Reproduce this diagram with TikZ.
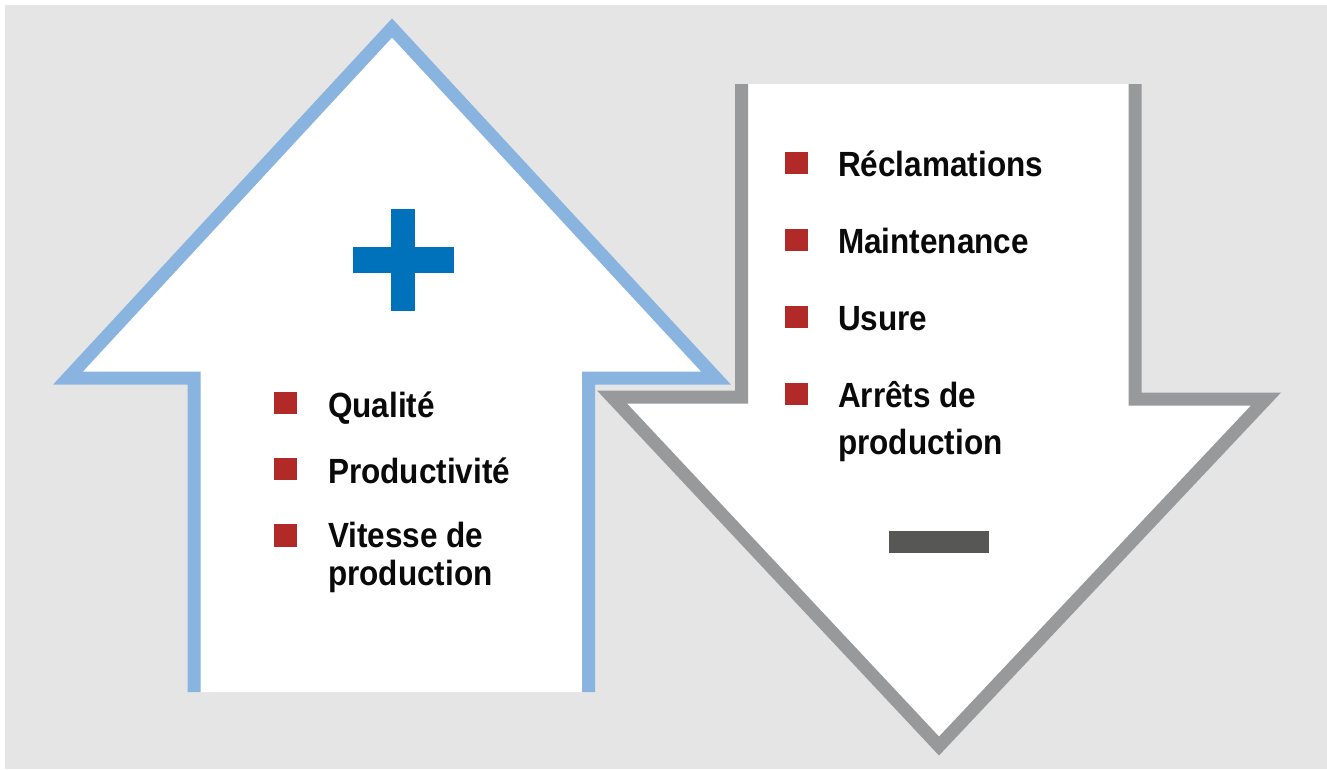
\documentclass[tikz,border=0pt]{standalone}
\usepackage{fontspec}
\setmainfont{Liberation Sans}[FakeStretch=0.9]
\definecolor{bgGray}{HTML}{E4E5E4}
\definecolor{upBlue}{HTML}{8AB4E0}
\definecolor{downGray}{HTML}{98999B}
\definecolor{plusBlue}{HTML}{0072BC}
\definecolor{minusGray}{HTML}{575756}
\definecolor{bulletRed}{HTML}{B22A27}
\definecolor{ink}{HTML}{0A0A0A}
\tikzset{
  arrowline/.style={line width=13pt, line join=miter},
  bullet/.style={fill=bulletRed},
  % single-line items are placed by their baseline; two-line items by the
  % baseline of their last line
  item/.style={anchor=base west, inner sep=0pt, align=left, text=ink,
    font=\bfseries\fontsize{35}{38}\selectfont},
  itemwide/.style={item, font=\bfseries\fontsize{35}{47}\selectfont},
}
\begin{document}
\begin{tikzpicture}[x=1pt, y=-1pt]
  \useasboundingbox (0,0) rectangle (1327,769);
  \fill[white] (0,0) rectangle (1327,769);
  \fill[bgGray] (5,5) rectangle (1327,769);

  % upward arrow
  \coordinate (u1) at (194,692);
  \coordinate (u2) at (194,378);
  \coordinate (u3) at (68,378);
  \coordinate (u4) at (392,28);
  \coordinate (u5) at (716,378);
  \coordinate (u6) at (588.5,378);
  \coordinate (u7) at (588.5,692);
  \fill[white] (u1) -- (u2) -- (u3) -- (u4) -- (u5) -- (u6) -- (u7) -- cycle;
  \draw[arrowline, upBlue] (u1) -- (u2) -- (u3) -- (u4) -- (u5) -- (u6) -- (u7);

  % downward arrow
  \coordinate (d1) at (741.5,84);
  \coordinate (d2) at (741.5,397);
  \coordinate (d3) at (612,397);
  \coordinate (d4) at (939,746);
  \coordinate (d5) at (1266,399);
  \coordinate (d6) at (1135,399);
  \coordinate (d7) at (1135,84);
  \fill[white] (d1) -- (d2) -- (d3) -- (d4) -- (d5) -- (d6) -- (d7) -- cycle;
  \draw[arrowline, downGray] (d1) -- (d2) -- (d3) -- (d4) -- (d5) -- (d6) -- (d7);

  % plus and minus signs
  \fill[plusBlue] (391,209) rectangle (415,311);
  \fill[plusBlue] (353,247) rectangle (454,273);
  \fill[minusGray] (889,531) rectangle (989,553);

  % items on the upward arrow
  \fill[bullet] (274,392) rectangle (297,414);
  \node[item] (qual) at (328,417) {Qualité};
  \fill[bullet] (274,458) rectangle (297,480);
  \node[item] (prod) at (328,483) {Productivité};
  \fill[bullet] (274,524) rectangle (297,547);
  \node[item] (vit) at (328,585) {Vitesse de\\production};

  % items on the downward arrow
  \fill[bullet] (785,152) rectangle (808,174);
  \node[item] (recl) at (838,176) {Réclamations};
  \fill[bullet] (785,229) rectangle (808,251);
  \node[item] (maint) at (838,253) {Maintenance};
  \fill[bullet] (785,306) rectangle (808,328);
  \node[item] (usure) at (838,330) {Usure};
  \fill[bullet] (785,383) rectangle (808,405);
  \node[itemwide] (arret) at (838,454) {Arrêts de\\production};
\end{tikzpicture}
\end{document}
